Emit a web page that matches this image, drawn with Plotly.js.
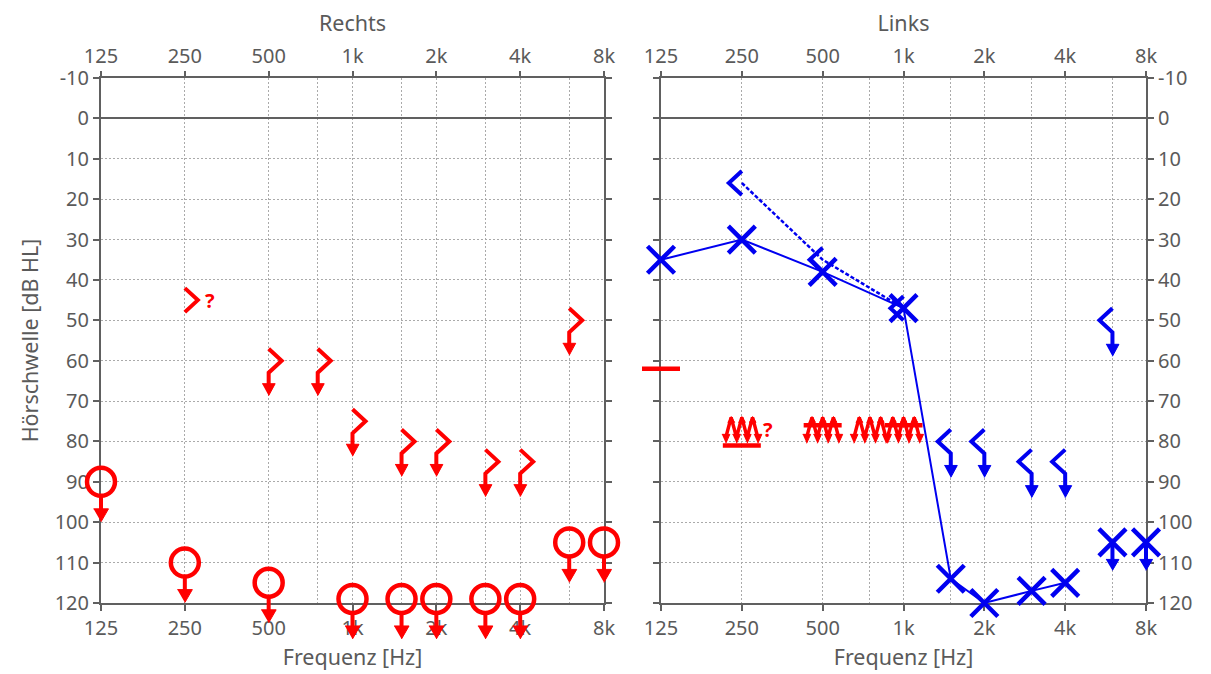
<!DOCTYPE html>
<html><head><meta charset="utf-8">
<script src="https://cdn.plot.ly/plotly-3.0.1.min.js"></script>
<style>html,body{margin:0;padding:0;background:#fff}</style>
</head><body><div id="chart" style="width:1211px;height:674px"></div>
<script>
// ---------------- data ----------------
const freqTicks = [125, 250, 500, 1000, 2000, 4000, 8000];
const freqTickLabels = ['125', '250', '500', '1k', '2k', '4k', '8k'];
const halfOctaves = [750, 1500, 3000, 6000];
const dbTicks = [-10, 0, 10, 20, 30, 40, 50, 60, 70, 80, 90, 100, 110, 120];
const dbTickLabels = ['-10', '0', '10', '20', '30', '40', '50', '60', '70', '80', '90', '100', '110', '120'];

// Rechts (right ear) - air conduction, no response
const rAirFreq = [125, 250, 500, 1000, 1500, 2000, 3000, 4000, 6000, 8000];
const rAirDb   = [90, 110, 115, 119, 119, 119, 119, 119, 105, 105];
// Rechts - bone conduction (unmasked)
const rBoneFreq   = [250, 500, 750, 1000, 1500, 2000, 3000, 4000, 6000];
const rBoneDb     = [45, 60, 60, 75, 80, 80, 85, 85, 50];
const rBoneNoResp = [false, true, true, true, true, true, true, true, true];
const rBoneUnsure = [true, false, false, false, false, false, false, false, false];

// Links (left ear) - air conduction
const lAirFreq   = [125, 250, 500, 1000, 1500, 2000, 3000, 4000, 6000, 8000];
const lAirDb     = [35, 30, 38, 47, 114, 120, 117, 115, 105, 105];
const lAirNoResp = [false, false, false, false, false, false, false, false, true, true];
// Links - bone conduction (unmasked)
const lBoneFreq   = [250, 500, 1000, 1500, 2000, 3000, 4000, 6000];
const lBoneDb     = [16, 35, 47, 80, 80, 85, 85, 50];
const lBoneNoResp = [false, false, false, true, true, true, true, true];
// Masking (contralateral noise) marks
const maskNoiseFreq = [250, 500, 750, 1000];
const maskNoiseDb   = [77, 77, 77, 77];
const maskNoiseUnsure = [true, false, false, false];
const maskBarFreq = [125, 250, 500, 1000];
const maskBarDb   = [62, 81, 76, 76];

// ---------------- geometry helpers ----------------
const RED = '#ff0000', BLUE = '#0000f0', GRAY = '#5a5a5a', FRAME = '#606060', GRID = '#aaaaaa';
const FONT = 'Noto Sans, Open Sans, sans-serif';
const W = 1211, H = 674;
const LP = {x0: 101, x1: 604}, RP = {x0: 661, x1: 1146};
const YT = 78, YB = 603, EXT = 50;
const LOG0 = Math.log10(125), LOG1 = Math.log10(8000);
const DBMIN = -10, DBMAX = 120;
const DBPP = (DBMAX - DBMIN) / (YB - YT);
function lpp(p) { return (LOG1 - LOG0) / (p.x1 - p.x0); }
function P(p, f, v, dx, dy) { return [Math.pow(10, Math.log10(f) + dx * lpp(p)), v + dy * DBPP]; }
function Path() { this.x = []; this.y = []; }
Path.prototype.add = function (pts) { pts.forEach(q => { this.x.push(q[0]); this.y.push(q[1]); }); this.x.push(null); this.y.push(null); };

const yDom = [(H - YB) / H, (H - YT) / H];
const yDomExt = [(H - YB - EXT) / H, (H - YT + EXT) / H];
function xDom(p) { return [p.x0 / W, p.x1 / W]; }
function xDomExt(p) { return [(p.x0 - EXT) / W, (p.x1 + EXT) / W]; }
function xRangeExt(p) { return [LOG0 - EXT * lpp(p), LOG1 + EXT * lpp(p)]; }
const yRangeExt = [DBMAX + EXT * DBPP, DBMIN - EXT * DBPP];

// ---------------- build symbol paths ----------------
// Left panel (Rechts)
const rLines = new Path(), rHeads = new Path();
rAirFreq.forEach((f, i) => {
  const v = rAirDb[i];
  rLines.add([P(LP, f, v, 0, 15), P(LP, f, v, 0, 28)]);
  rHeads.add([P(LP, f, v, -7.5, 27), P(LP, f, v, 7.5, 27), P(LP, f, v, 0, 40)]);
});
rBoneFreq.forEach((f, i) => {
  const v = rBoneDb[i];
  const pts = [P(LP, f, v, 0, -12), P(LP, f, v, 13, 0), P(LP, f, v, 0, 12)];
  if (rBoneNoResp[i]) {
    pts.push(P(LP, f, v, 0, 24));
    rHeads.add([P(LP, f, v, -6.5, 23), P(LP, f, v, 6.5, 23), P(LP, f, v, 0, 35)]);
  }
  rLines.add(pts);
});

// Right panel (Links)
const lLines = new Path(), lHeads = new Path();
lBoneFreq.forEach((f, i) => {
  const v = lBoneDb[i];
  const pts = [P(RP, f, v, 0, -12), P(RP, f, v, -13, 0), P(RP, f, v, 0, 12)];
  if (lBoneNoResp[i]) {
    pts.push(P(RP, f, v, 0, 25));
    lHeads.add([P(RP, f, v, -6.5, 24), P(RP, f, v, 6.5, 24), P(RP, f, v, 0, 36)]);
  }
  lLines.add(pts);
});
lAirFreq.forEach((f, i) => {
  if (!lAirNoResp[i]) return;
  const v = lAirDb[i];
  lLines.add([P(RP, f, v, 0, 0), P(RP, f, v, 0, 18)]);
  lHeads.add([P(RP, f, v, -6.5, 17), P(RP, f, v, 6.5, 17), P(RP, f, v, 0, 28)]);
});
const airConnF = [], airConnD = [];
lAirFreq.forEach((f, i) => { if (!lAirNoResp[i]) { airConnF.push(f); airConnD.push(lAirDb[i]); } });
const boneConnF = [], boneConnD = [];
lBoneFreq.forEach((f, i) => { if (!lBoneNoResp[i]) { boneConnF.push(f); boneConnD.push(lBoneDb[i]); } });

const mBars = new Path(), mZig = new Path(), mHeads = new Path();
maskBarFreq.forEach((f, i) => {
  const v = maskBarDb[i];
  mBars.add([P(RP, f, v, -19, 0), P(RP, f, v, 19, 0)]);
});
maskNoiseFreq.forEach((f, i) => {
  const v = maskNoiseDb[i];
  const dxs = [-16, -10.7, -5.3, 0, 5.3, 10.7, 16];
  const pts = dxs.map((dx, k) => P(RP, f, v, dx, k % 2 === 0 ? 8 : -12));
  mZig.add(pts);
  dxs.forEach((dx, k) => {
    if (k % 2 === 0) mHeads.add([P(RP, f, v, dx - 4, 5), P(RP, f, v, dx + 4, 5), P(RP, f, v, dx, 14)]);
    else mHeads.add([P(RP, f, v, dx - 3.5, -7), P(RP, f, v, dx + 3.5, -7), P(RP, f, v, dx, -13)]);
  });
});

// ---------------- traces ----------------
const traces = [];
// placeholders so every axis/subplot exists
[['x', 'y'], ['x2', 'y2'], ['x3', 'y'], ['x4', 'y2']].forEach(a =>
  traces.push({type: 'scatter', x: [], y: [], xaxis: a[0], yaxis: a[1], showlegend: false, hoverinfo: 'skip'}));

// Left symbols
traces.push({type: 'scatter', mode: 'lines', x: rLines.x, y: rLines.y, xaxis: 'x5', yaxis: 'y5',
  line: {color: RED, width: 4}, showlegend: false, hoverinfo: 'skip'});
traces.push({type: 'scatter', mode: 'lines', x: rHeads.x, y: rHeads.y, xaxis: 'x5', yaxis: 'y5',
  fill: 'toself', fillcolor: RED, line: {color: RED, width: 1}, showlegend: false, hoverinfo: 'skip'});
traces.push({type: 'scatter', mode: 'markers', x: rAirFreq, y: rAirDb, xaxis: 'x5', yaxis: 'y5',
  marker: {symbol: 'circle-open', size: 28, color: RED, line: {width: 4.5, color: RED}},
  cliponaxis: false, showlegend: false});

// Right symbols
traces.push({type: 'scatter', mode: 'lines', x: mBars.x, y: mBars.y, xaxis: 'x6', yaxis: 'y6',
  line: {color: RED, width: 4.5}, showlegend: false, hoverinfo: 'skip'});
traces.push({type: 'scatter', mode: 'lines', x: mZig.x, y: mZig.y, xaxis: 'x6', yaxis: 'y6',
  line: {color: RED, width: 3.5}, showlegend: false, hoverinfo: 'skip'});
traces.push({type: 'scatter', mode: 'lines', x: mHeads.x, y: mHeads.y, xaxis: 'x6', yaxis: 'y6',
  fill: 'toself', fillcolor: RED, line: {color: RED, width: 1}, showlegend: false, hoverinfo: 'skip'});
traces.push({type: 'scatter', mode: 'lines', x: boneConnF, y: boneConnD, xaxis: 'x6', yaxis: 'y6',
  line: {color: BLUE, width: 2.5, dash: '4px,2px'}, showlegend: false, hoverinfo: 'skip'});
traces.push({type: 'scatter', mode: 'lines', x: airConnF, y: airConnD, xaxis: 'x6', yaxis: 'y6',
  line: {color: BLUE, width: 2}, showlegend: false, hoverinfo: 'skip'});
traces.push({type: 'scatter', mode: 'lines', x: lLines.x, y: lLines.y, xaxis: 'x6', yaxis: 'y6',
  line: {color: BLUE, width: 4}, showlegend: false, hoverinfo: 'skip'});
traces.push({type: 'scatter', mode: 'lines', x: lHeads.x, y: lHeads.y, xaxis: 'x6', yaxis: 'y6',
  fill: 'toself', fillcolor: BLUE, line: {color: BLUE, width: 1}, showlegend: false, hoverinfo: 'skip'});
traces.push({type: 'scatter', mode: 'markers', x: lAirFreq, y: lAirDb, xaxis: 'x6', yaxis: 'y6',
  marker: {symbol: 'x-thin-open', size: 27, color: BLUE, line: {width: 4.5, color: BLUE}},
  cliponaxis: false, showlegend: false});

// ---------------- annotations ----------------
const annotations = [];
rBoneFreq.forEach((f, i) => {
  if (rBoneUnsure[i]) annotations.push({x: Math.log10(f), y: rBoneDb[i], xref: 'x5', yref: 'y5', text: '?',
    showarrow: false, xshift: 25, font: {family: FONT, size: 20, color: RED, weight: 700}});
});
maskNoiseFreq.forEach((f, i) => {
  if (maskNoiseUnsure[i]) annotations.push({x: Math.log10(f), y: maskNoiseDb[i], xref: 'x6', yref: 'y6', text: '?',
    showarrow: false, xshift: 26, font: {family: FONT, size: 20, color: RED, weight: 700}});
});

// ---------------- axes ----------------
const tickFont = {family: FONT, size: 20, color: GRAY};
const titleFont = {family: FONT, size: 21.5, color: GRAY};
const GDASH = '2px,2px';
function xMain(p, yA) {
  return {domain: xDom(p), anchor: yA, type: 'log', range: [LOG0, LOG1],
    tickmode: 'array', tickvals: freqTicks, ticktext: freqTickLabels,
    showgrid: true, gridcolor: GRID, griddash: GDASH, gridwidth: 1,
    minor: {tickmode: 'array', tickvals: halfOctaves, showgrid: true, gridcolor: GRID, griddash: GDASH, gridwidth: 1, ticks: ''},
    showline: true, linecolor: FRAME, linewidth: 2, mirror: true,
    ticks: 'outside', ticklen: 6, tickwidth: 2, tickcolor: FRAME, tickfont: tickFont,
    zeroline: false, fixedrange: true,
    title: {text: 'Frequenz [Hz]', font: titleFont, standoff: 10}};
}
function xTop(over, yA, title) {
  return {overlaying: over, anchor: yA, side: 'top', type: 'log', range: [LOG0, LOG1],
    tickmode: 'array', tickvals: freqTicks, ticktext: freqTickLabels,
    showgrid: false, showline: false, zeroline: false,
    ticks: 'outside', ticklen: 6, tickwidth: 2, tickcolor: FRAME, tickfont: tickFont, fixedrange: true,
    title: {text: title, font: titleFont, standoff: 4}};
}
function yMain(xA, side, title) {
  const a = {domain: yDom, anchor: xA, side: side, range: [DBMAX, DBMIN],
    tickmode: 'array', tickvals: dbTicks, ticktext: dbTickLabels,
    showgrid: true, gridcolor: GRID, griddash: GDASH, gridwidth: 1,
    zeroline: true, zerolinecolor: FRAME, zerolinewidth: 2,
    showline: true, linecolor: FRAME, linewidth: 2, mirror: 'ticks',
    ticks: 'outside', ticklen: 6, tickwidth: 2, tickcolor: FRAME, tickfont: tickFont, fixedrange: true};
  if (title) a.title = {text: title, font: titleFont, standoff: 10};
  return a;
}
function hidden(dom, rng, anchor, type) {
  const a = {domain: dom, range: rng, anchor: anchor, visible: false, fixedrange: true, showgrid: false, zeroline: false};
  if (type) a.type = type;
  return a;
}

const layout = {
  width: W, height: H, margin: {l: 0, r: 0, t: 0, b: 0, pad: 0},
  paper_bgcolor: '#ffffff', plot_bgcolor: 'rgba(0,0,0,0)', showlegend: false,
  font: {family: FONT, color: GRAY},
  xaxis: xMain(LP, 'y'),
  yaxis: yMain('x', 'left', 'Hörschwelle [dB HL]'),
  xaxis2: xMain(RP, 'y2'),
  yaxis2: yMain('x2', 'right', null),
  xaxis3: xTop('x', 'y', 'Rechts'),
  xaxis4: xTop('x2', 'y2', 'Links'),
  xaxis5: hidden(xDomExt(LP), xRangeExt(LP), 'y5', 'log'),
  yaxis5: hidden(yDomExt, yRangeExt, 'x5'),
  xaxis6: hidden(xDomExt(RP), xRangeExt(RP), 'y6', 'log'),
  yaxis6: hidden(yDomExt, yRangeExt, 'x6'),
  annotations: annotations
};

Plotly.newPlot('chart', traces, layout, {displayModeBar: false, staticPlot: true});
</script>
</body></html>
